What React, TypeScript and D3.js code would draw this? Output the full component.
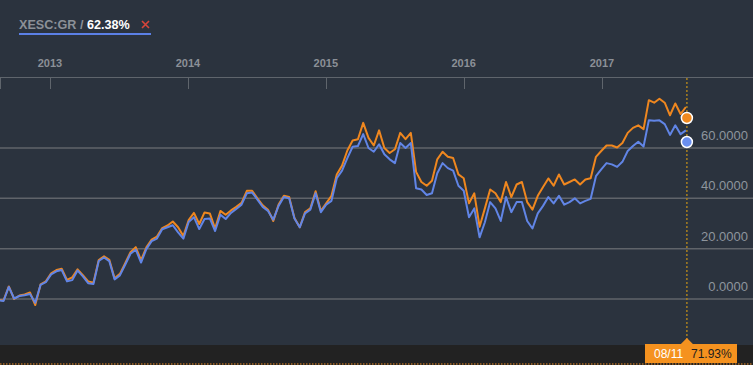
import React, { useEffect, useRef } from "react";
import * as d3 from "d3";

// sampled every two weeks, last point on 08/11/2017
const endDate = new Date(2017, 7, 11);
const stepDays = 14;

const blueValues = [
  -0.5, -0.8, 4.8, 0.2, 1.2, 1.5, 2.0, -1.5, 5.6, 6.7,
  9.8, 11.0, 11.5, 7.0, 7.5, 11.3, 9.0, 6.3, 6.0, 15.1,
  16.5, 15.0, 7.8, 9.4, 13.6, 18.0, 19.6, 14.5, 19.8, 23.0,
  24.0, 27.7, 28.5, 29.3, 26.5, 24.0, 30.6, 32.5, 27.8, 31.8,
  32.0, 27.0, 33.5, 31.8, 34.2, 35.8, 37.5, 42.0, 42.3, 39.5,
  36.6, 35.0, 31.5, 37.0, 40.5, 40.0, 32.0, 28.5, 34.0, 35.5,
  42.0, 34.5, 37.5, 39.0, 48.0, 51.0, 56.0, 60.5, 60.8, 65.5,
  60.0, 58.5, 61.5, 57.5, 55.5, 54.0, 62.0, 60.0, 62.0, 44.0,
  43.5, 41.3, 42.0, 50.0, 54.0, 52.0, 51.0, 45.0, 43.0, 32.5,
  36.0, 24.5, 30.5, 38.5, 36.0, 31.0, 40.5, 34.5, 38.5, 38.5,
  31.0, 28.0, 34.0, 37.0, 40.5, 38.0, 41.0, 37.5, 38.5, 40.0,
  38.0, 39.0, 39.8, 48.8, 51.5, 54.0, 53.5, 52.5, 54.5, 58.8,
  60.8, 62.5, 60.6, 71.0, 70.8, 71.0, 69.5, 65.2, 69.0, 65.5,
  67.0,
];

const orangeValues = [
  -0.3, -0.6, 5.0, 0.0, 1.4, 1.8, 2.6, -2.4, 5.8, 7.0,
  10.2, 11.5, 12.0, 7.6, 8.6, 11.8, 9.5, 7.0, 6.5, 15.5,
  17.0, 15.6, 8.2, 10.0, 14.2, 18.6, 20.6, 15.4, 20.5, 23.6,
  24.8, 28.2, 29.2, 30.8, 28.5, 25.0, 31.4, 34.2, 29.8, 34.4,
  34.0, 28.0, 35.0, 33.5, 35.2, 36.6, 38.2, 43.0, 43.0, 40.0,
  37.2, 35.5, 31.0, 37.5, 41.0, 40.5, 32.2, 28.5, 34.5, 36.0,
  42.8, 35.0, 38.0, 41.0, 49.5, 53.0, 59.0, 63.0, 63.5, 70.0,
  64.0, 61.0, 67.0, 60.0, 58.0, 59.5, 66.0, 63.5, 66.0, 50.5,
  46.5, 45.0, 47.0, 55.5, 58.5, 56.5, 56.0, 49.5, 48.0, 38.0,
  42.0, 28.7, 36.0, 43.5, 42.0, 38.5, 46.5, 40.5, 45.5, 46.5,
  38.5, 35.5, 41.0, 44.5, 47.9, 45.0, 49.5, 45.5, 46.5, 47.5,
  45.5, 47.5, 48.0, 56.5, 58.8, 61.0, 61.0, 60.2, 62.0, 66.0,
  68.0, 69.0, 67.5, 79.0, 78.0, 79.6, 78.0, 73.0, 77.7, 73.5,
  76.3,
];

const lastBlue = 62.38;
const lastOrange = 71.93;
const yearTicks = [2013, 2014, 2015, 2016, 2017];
const yTicks = [0, 20, 40, 60];

const W = 753;
const H = 365;

export default function App() {
  const ref = useRef<SVGSVGElement>(null);

  useEffect(() => {
    const svg = d3.select(ref.current);
    svg.selectAll("*").remove();

    const n = blueValues.length;
    const dates = blueValues.map((_, i) =>
      d3.timeDay.offset(endDate, -(n - 1 - i) * stepDays)
    );

    const x = d3
      .scaleTime()
      .domain([new Date(2013, 0, 1), new Date(2017, 0, 1)])
      .range([50, 602]);
    const y = d3.scaleLinear().domain([0, 60]).range([299, 148]);

    svg.append("rect").attr("width", W).attr("height", H).attr("fill", "#2b333e");

    // legend
    const legend = svg
      .append("text")
      .attr("x", 19)
      .attr("y", 29)
      .style("font-family", "Liberation Sans, Arial, sans-serif")
      .style("font-size", "12.6px")
      .style("font-weight", "bold");
    legend.append("tspan").attr("fill", "#8b9097").text("XESC:GR / ");
    legend.append("tspan").attr("fill", "#ffffff").text(lastBlue.toFixed(2) + "%");
    svg
      .append("path")
      .attr("d", "M142,21L149,28M149,21L142,28")
      .attr("stroke", "#d8453a")
      .attr("stroke-width", 1.6);
    svg
      .append("line")
      .attr("x1", 19)
      .attr("x2", 151)
      .attr("y1", 34)
      .attr("y2", 34)
      .attr("stroke", "#5b80e6")
      .attr("stroke-width", 2);

    // top time axis
    svg
      .append("line")
      .attr("x1", 0)
      .attr("x2", W)
      .attr("y1", 77.5)
      .attr("y2", 77.5)
      .attr("stroke", "#5f656c")
      .attr("stroke-width", 1);
    const tickX = [0, ...yearTicks.map((yr) => x(new Date(yr, 0, 1)))];
    svg
      .selectAll(".ytick")
      .data(tickX)
      .enter()
      .append("line")
      .attr("x1", (d) => Math.round(d) + 0.5)
      .attr("x2", (d) => Math.round(d) + 0.5)
      .attr("y1", 78)
      .attr("y2", 89)
      .attr("stroke", "#5f656c");
    svg
      .selectAll(".ylab")
      .data(yearTicks)
      .enter()
      .append("text")
      .attr("x", (d) => x(new Date(d, 0, 1)))
      .attr("y", 67)
      .attr("text-anchor", "middle")
      .attr("fill", "#8b9097")
      .style("font-family", "Liberation Sans, Arial, sans-serif")
      .style("font-size", "11px")
      .style("font-weight", "bold")
      .text((d) => String(d));

    // grid + value labels
    svg
      .selectAll(".grid")
      .data(yTicks)
      .enter()
      .append("line")
      .attr("x1", 0)
      .attr("x2", W)
      .attr("y1", (d) => y(d))
      .attr("y2", (d) => y(d))
      .attr("stroke", "#60646a")
      .attr("stroke-width", 1.5);
    svg
      .selectAll(".vlab")
      .data(yTicks)
      .enter()
      .append("text")
      .attr("x", 748)
      .attr("y", (d) => y(d) - 8)
      .attr("text-anchor", "end")
      .attr("fill", "#8e959d")
      .style("font-family", "Liberation Sans, Arial, sans-serif")
      .style("font-size", "13px")
      .text((d) => d.toFixed(4));

    // bottom band
    svg.append("rect").attr("x", 0).attr("y", 345).attr("width", W).attr("height", 20).attr("fill", "#222222");
    svg
      .append("line")
      .attr("x1", 0)
      .attr("x2", W)
      .attr("y1", 364)
      .attr("y2", 364)
      .attr("stroke", "#f0902a")
      .attr("stroke-width", 1)
      .attr("stroke-dasharray", "1.5,1.5");

    svg
      .append("clipPath")
      .attr("id", "plot-clip")
      .append("rect")
      .attr("x", 0)
      .attr("y", 78)
      .attr("width", W)
      .attr("height", 267);

    const line = d3
      .line<number>()
      .x((_, i) => x(dates[i]))
      .y((d) => y(d));

    svg
      .append("path")
      .datum(orangeValues)
      .attr("clip-path", "url(#plot-clip)")
      .attr("fill", "none")
      .attr("stroke", "#ef871f")
      .attr("stroke-width", 2)
      .attr("stroke-linejoin", "round")
      .attr("d", line);
    svg
      .append("path")
      .datum(blueValues)
      .attr("clip-path", "url(#plot-clip)")
      .attr("fill", "none")
      .attr("stroke", "#6185e6")
      .attr("stroke-width", 2)
      .attr("stroke-linejoin", "round")
      .attr("d", line);

    // crosshair at last date
    const xe = x(endDate) + 1;
    svg
      .append("line")
      .attr("x1", xe)
      .attr("x2", xe)
      .attr("y1", 78)
      .attr("y2", 340)
      .attr("stroke", "#a9801f")
      .attr("stroke-width", 1.5)
      .attr("stroke-dasharray", "2,2");

    svg
      .append("circle")
      .attr("cx", xe)
      .attr("cy", y(lastOrange))
      .attr("r", 5.5)
      .attr("fill", "#f0891e")
      .attr("stroke", "#ffffff")
      .attr("stroke-width", 1.5);
    svg
      .append("circle")
      .attr("cx", xe)
      .attr("cy", y(lastBlue))
      .attr("r", 5.5)
      .attr("fill", "#6a8ff0")
      .attr("stroke", "#ffffff")
      .attr("stroke-width", 1.5);

    // date tag
    const tag = svg.append("g");
    tag
      .append("path")
      .attr("d", `M${xe - 7},345L${xe},338L${xe + 7},345Z`)
      .attr("fill", "#f5921f");
    tag.append("rect").attr("x", 645).attr("y", 344).attr("width", 92).attr("height", 19).attr("fill", "#f5921f");
    tag
      .append("text")
      .attr("x", 654)
      .attr("y", 358)
      .attr("fill", "#ffffff")
      .style("font-family", "Liberation Sans, Arial, sans-serif")
      .style("font-size", "12px")
      .text(d3.timeFormat("%m/%d")(endDate));
    tag
      .append("text")
      .attr("x", 691)
      .attr("y", 358)
      .attr("fill", "#1e1e1e")
      .style("font-family", "Liberation Sans, Arial, sans-serif")
      .style("font-size", "12px")
      .text(lastOrange.toFixed(2) + "%");
  }, []);

  return (
    <svg
      ref={ref}
      width={W}
      height={H}
      style={{ position: "absolute", left: 0, top: 0, display: "block" }}
    />
  );
}
